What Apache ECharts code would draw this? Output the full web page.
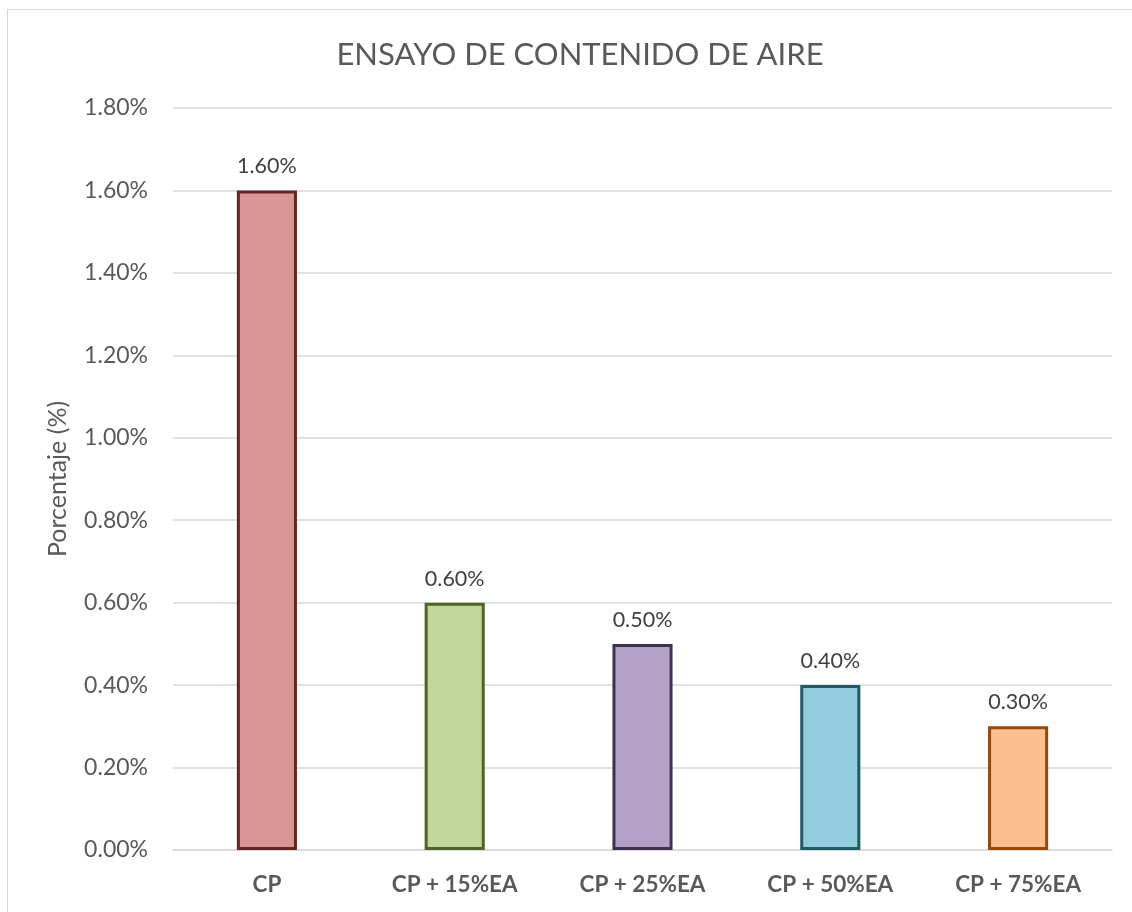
<!DOCTYPE html>
<html>
<head>
<meta charset="utf-8">
<script src="https://cdn.jsdelivr.net/npm/echarts@6/dist/echarts.min.js"></script>
<style>
html,body{margin:0;padding:0;background:#fff;}
#frame{position:absolute;left:7px;top:9px;width:1130px;height:910px;border:1px solid #d9d9d9;box-sizing:border-box;}
#chart{position:absolute;left:0;top:0;width:1132px;height:912px;}
</style>
</head>
<body>
<div id="frame"></div>
<div id="chart"></div>
<script>
const categories = ['CP', 'CP + 15%EA', 'CP + 25%EA', 'CP + 50%EA', 'CP + 75%EA'];
const values = [1.60, 0.60, 0.50, 0.40, 0.30];
const fillColors = ['#D99694', '#C3D69B', '#B3A2C7', '#93CDDD', '#FAC090'];
const borderColors = ['#632523', '#4F6228', '#3F3151', '#215968', '#984807'];
const FONT = 'Lato';

const chart = echarts.init(document.getElementById('chart'), null, {renderer: 'canvas'});
chart.setOption({
  animation: false,
  title: {
    text: 'ENSAYO DE CONTENIDO DE AIRE',
    left: 575, top: 34, textAlign: 'center',
    textStyle: {fontFamily: FONT, fontSize: 31, fontWeight: 'normal', color: '#595959'}
  },
  grid: {left: 173, right: 20, top: 108, bottom: 62},
  xAxis: {
    type: 'category',
    data: categories,
    axisLine: {lineStyle: {color: '#d9d9d9', width: 1.5}},
    axisTick: {show: false},
    axisLabel: {fontFamily: FONT, fontSize: 22.5, fontWeight: 'bold', color: '#595959', margin: 23}
  },
  yAxis: {
    type: 'value',
    min: 0, max: 1.8, interval: 0.2,
    name: 'Porcentaje (%)',
    nameLocation: 'middle',
    nameGap: 103,
    nameTextStyle: {fontFamily: FONT, fontSize: 25, color: '#595959'},
    axisLine: {show: false},
    axisTick: {show: false},
    splitLine: {lineStyle: {color: '#d9d9d9', width: 1.5}},
    axisLabel: {fontFamily: FONT, fontSize: 23, color: '#595959', margin: 25,
      formatter: v => v.toFixed(2) + '%'}
  },
  series: [{
    type: 'bar',
    barWidth: '32%',
    data: values.map((v, i) => ({
      value: v,
      itemStyle: {color: fillColors[i], borderColor: borderColors[i], borderWidth: 3}
    })),
    label: {
      show: true, position: 'top', distance: 13,
      fontFamily: FONT, fontSize: 21.5, color: '#404040',
      formatter: p => p.value.toFixed(2) + '%'
    }
  }]
});
</script>
</body>
</html>
